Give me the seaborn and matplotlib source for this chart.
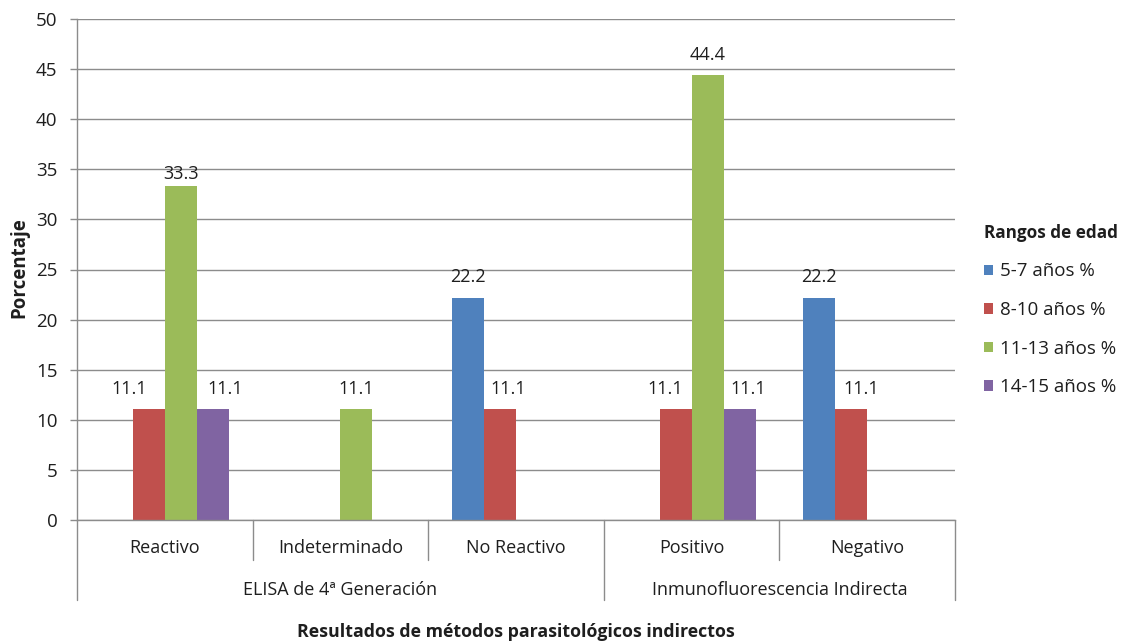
import numpy as np
import pandas as pd
import matplotlib
matplotlib.use("Agg")
import matplotlib.pyplot as plt
import matplotlib.transforms as mtransforms
from matplotlib.patches import Patch
import seaborn as sns

# Results per test outcome (percent of children in each age range)
categories = ["Reactivo", "Indeterminado", "No Reactivo", "Positivo", "Negativo"]
groups = ["ELISA de 4ª Generación", "Inmunofluorescencia Indirecta"]
group_spans = [(0, 2), (3, 4)]  # first and last category index of each test
series = ["5-7 años %", "8-10 años %", "11-13 años %", "14-15 años %"]
v_5_7 = [0, 0, 22.2, 0, 22.2]
v_8_10 = [11.1, 0, 11.1, 11.1, 11.1]
v_11_13 = [33.3, 11.1, 0, 44.4, 0]
v_14_15 = [11.1, 0, 0, 11.1, 0]
yticks = [0, 5, 10, 15, 20, 25, 30, 35, 40, 45, 50]

# nudges (in pixels) that keep neighbouring value labels apart
label_dx = [
    [0, 0, 0, 0, 0],
    [-20, 0, 8, -10, 10],
    [0, 0, 0, 0, 0],
    [12, 0, 0, 9, 0],
]
label_dy = [
    [0, 0, 0, 0, 0],
    [0, 0, 0, 0, 0],
    [-8, 0, 0, 0, 0],
    [0, 0, 0, 0, 0],
]

colors = ["#4F81BD", "#C0504D", "#9BBB59", "#8064A2"]
text_color = "#1E1E1E"
grid_color = "#8C8C8C"

sns.set_theme(style="white")
plt.rcParams["font.family"] = ["Open Sans", "DejaVu Sans"]

df = pd.DataFrame({
    "Resultado": categories * 4,
    "Rango": sum([[s] * len(categories) for s in series], []),
    "Porcentaje": v_5_7 + v_8_10 + v_11_13 + v_14_15,
})

fig = plt.figure(figsize=(11.26, 6.42), dpi=100)
ax = fig.add_axes([77 / 1126, 1 - 520 / 642, (955 - 77) / 1126, (520 - 19) / 642])

sns.barplot(data=df, x="Resultado", y="Porcentaje", hue="Rango",
            order=categories, hue_order=series, palette=colors,
            width=0.73, saturation=1, linewidth=0, legend=False, ax=ax)

# value labels over the non-zero bars
pt = 72 / fig.dpi
for s_idx, container in enumerate(ax.containers):
    for c_idx, bar in enumerate(container):
        h = bar.get_height()
        if h <= 0:
            continue
        ax.annotate(f"{h:.1f}", xy=(bar.get_x() + bar.get_width() / 2, h),
                    xytext=(label_dx[s_idx][c_idx] * pt, 8 + label_dy[s_idx][c_idx] * pt),
                    textcoords="offset points", ha="center", va="bottom",
                    fontsize=13, color=text_color)

ax.set_xlim(-0.5, len(categories) - 0.5)
ax.set_ylim(0, 50)
ax.set_yticks(yticks)
ax.set_yticklabels([str(t) for t in yticks], fontsize=13.5, color=text_color)
ax.yaxis.grid(True, color=grid_color, linewidth=1)
ax.set_axisbelow(True)
ax.tick_params(axis="y", length=5, color=grid_color, width=1, pad=9, left=True)
ax.tick_params(axis="x", length=0, bottom=False, labelbottom=False)
for side in ["top", "right"]:
    ax.spines[side].set_visible(False)
for side in ["left", "bottom"]:
    ax.spines[side].set_color(grid_color)
    ax.spines[side].set_linewidth(1)

px_x = 1 / (955 - 77)
px = 1 / (520 - 19)
ax.set_xlabel("")
ax.set_ylabel("Porcentaje", fontsize=13.5, fontweight="bold", color=text_color)
ax.yaxis.set_label_coords(-48 * px_x, 0.5 + 2 * px)

# two-level category axis: separators and labels below the plot
trans = mtransforms.blended_transform_factory(ax.transData, ax.transAxes)
short_len = 40 * px
long_len = 80 * px
group_edges = {s - 0.5 for s, _ in group_spans} | {e + 0.5 for _, e in group_spans}
for i in range(len(categories) + 1):
    xb = i - 0.5
    length = long_len if xb in group_edges else short_len
    ax.plot([xb, xb], [0, -length], transform=trans, color=grid_color,
            linewidth=1, clip_on=False)
for i, c in enumerate(categories):
    ax.text(i, -28 * px, c, transform=trans, ha="center", va="center",
            fontsize=13, color=text_color)
for g, (s, e) in zip(groups, group_spans):
    ax.text((s + e) / 2, -70 * px, g, transform=trans, ha="center", va="center",
            fontsize=13, color=text_color)

fig.text((77 + 955) / 2 / 1126, 1 - 632 / 642, "Resultados de métodos parasitológicos indirectos",
         ha="center", va="center", fontsize=12.8, fontweight="bold", color=text_color)

handles = [Patch(facecolor=c, edgecolor="none") for c in colors]
leg = fig.legend(handles, series, loc="upper left",
                 bbox_to_anchor=(967 / 1126, 1 - 207 / 642), frameon=False,
                 title="Rangos de edad", alignment="left",
                 handlelength=0.5, handleheight=0.5, handletextpad=0.35,
                 labelspacing=1.1, fontsize=13.5)
leg.get_title().set_fontsize(12.3)
leg.get_title().set_fontweight("bold")
leg.get_title().set_color(text_color)
for t in leg.get_texts():
    t.set_color(text_color)

fig.savefig("out.png", dpi=100, facecolor="white")
